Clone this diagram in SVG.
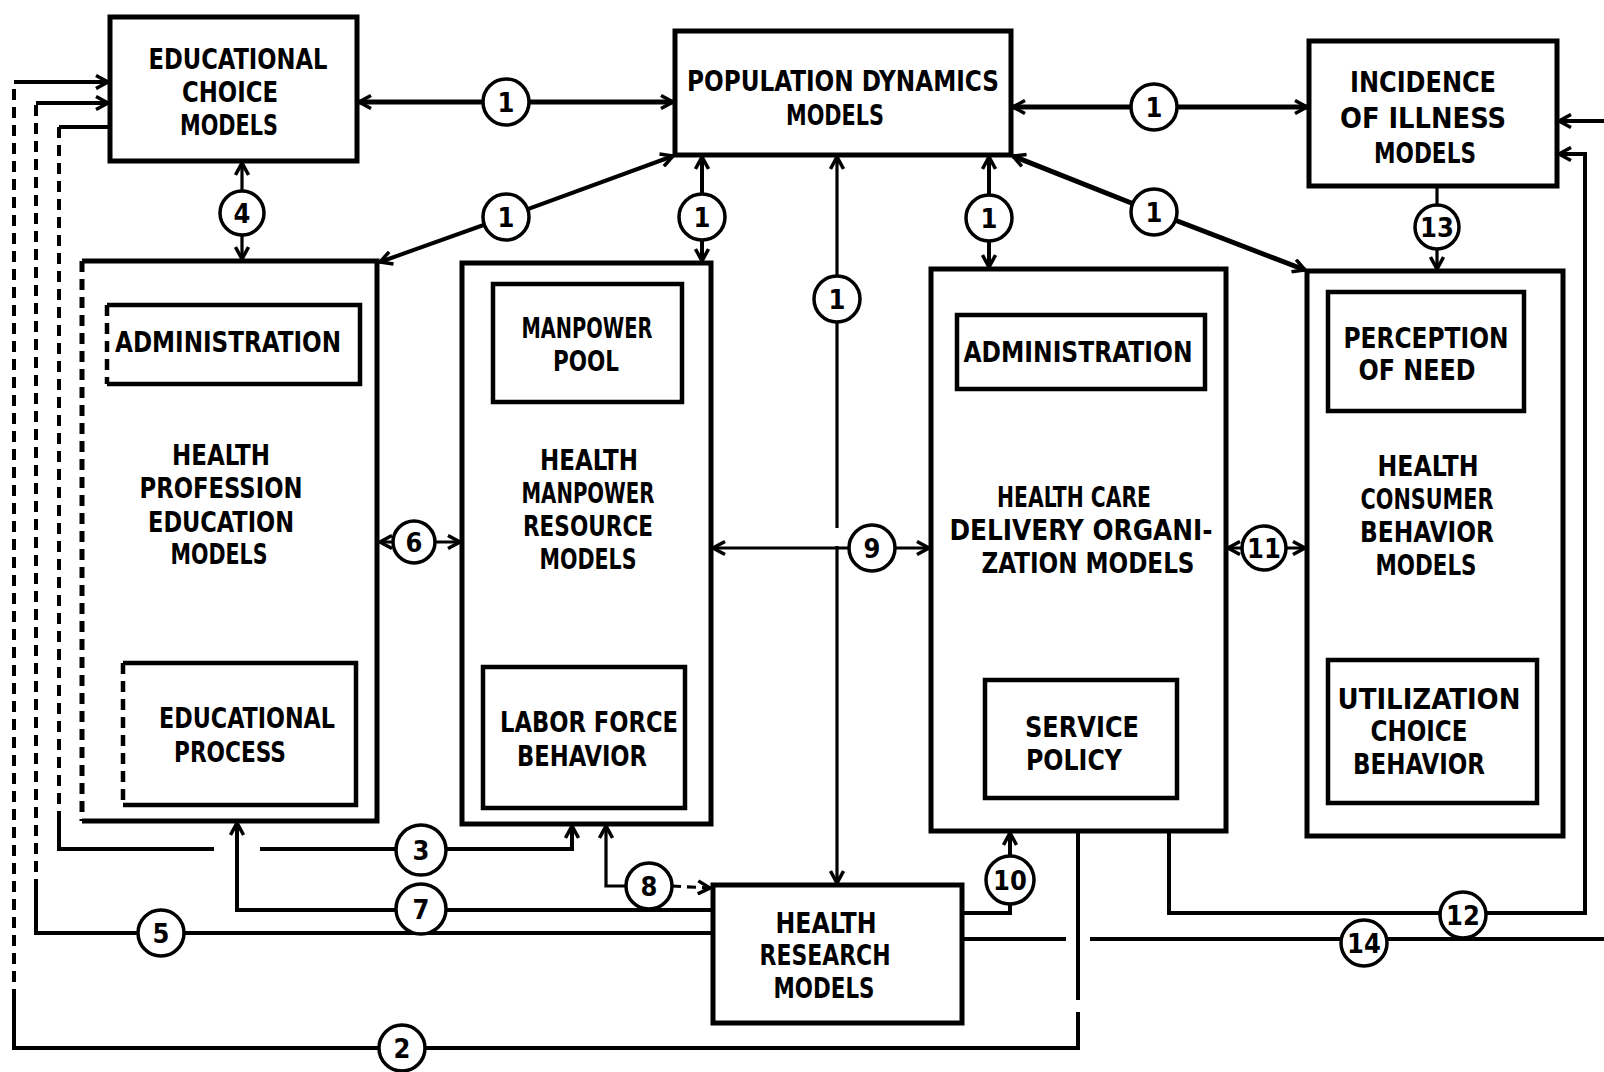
<svg xmlns="http://www.w3.org/2000/svg" width="1604" height="1072" viewBox="0 0 1604 1072">
<defs>
<marker id="ah" markerUnits="userSpaceOnUse" markerWidth="20" markerHeight="16" viewBox="0 0 20 16" refX="15" refY="8" orient="auto-start-reverse">
<path d="M3,1.5 L15,8 L3,14.5" fill="none" stroke="#000" stroke-width="3.5" stroke-linejoin="miter"/>
</marker>
</defs>
<style>
.box{fill:none;stroke:#000;stroke-width:5}
.inner{fill:none;stroke:#000;stroke-width:4.5}
.ln{fill:none;stroke:#000;stroke-width:4}
.thin{stroke-width:3.2}
.thick{stroke-width:5}
.dash{stroke-dasharray:11 7}
.c{fill:#fff;stroke:#000;stroke-width:3.5}
.t{font-family:"DejaVu Sans Condensed","DejaVu Sans","Liberation Sans",sans-serif;font-weight:bold;font-size:28px;text-anchor:middle;fill:#000}
.n{font-family:"DejaVu Sans Condensed","DejaVu Sans","Liberation Sans",sans-serif;font-weight:bold;font-size:27px;text-anchor:middle;fill:#000}
</style>
<rect width="1604" height="1072" fill="#fff"/>

<g id="connectors">
  <!-- 1: Educational choice <-> Population -->
  <path class="ln thick" d="M359,102 L673,102" marker-start="url(#ah)" marker-end="url(#ah)"/>
  <!-- 1: Population <-> Incidence -->
  <path class="ln thick" d="M1013,107 L1307,107" marker-start="url(#ah)" marker-end="url(#ah)"/>
  <!-- 4 -->
  <path class="ln thin" d="M242,163 L242,259" marker-start="url(#ah)" marker-end="url(#ah)"/>
  <!-- 1: diagonal left -->
  <path class="ln" d="M380,262 L506,217 L673,156" marker-start="url(#ah)" marker-end="url(#ah)"/>
  <!-- 1: Population <-> Manpower -->
  <path class="ln" d="M702,157 L702,261" marker-start="url(#ah)" marker-end="url(#ah)"/>
  <!-- 1: Population <-> Research -->
  <path class="ln thin" d="M837,157 L837,528" marker-start="url(#ah)"/>
  <path class="ln thin" d="M837,546 L837,883" marker-end="url(#ah)"/>
  <!-- 1: Population <-> Delivery -->
  <path class="ln" d="M989,157 L989,267" marker-start="url(#ah)" marker-end="url(#ah)"/>
  <!-- 1: diagonal right -->
  <path class="ln thick" d="M1013,156 L1154,212 L1305,270" marker-start="url(#ah)" marker-end="url(#ah)"/>
  <!-- 13 -->
  <path class="ln thin" d="M1437,188 L1437,269" marker-end="url(#ah)"/>
  <!-- 6 -->
  <path class="ln thin" d="M380,542 L460,542" marker-start="url(#ah)" marker-end="url(#ah)"/>
  <!-- 9 -->
  <path class="ln thin" d="M713,548 L929,548" marker-start="url(#ah)" marker-end="url(#ah)"/>
  <!-- 11 -->
  <path class="ln thin" d="M1228,548 L1305,548" marker-start="url(#ah)" marker-end="url(#ah)"/>
  <!-- 2 -->
  <path class="ln" d="M1078,833 L1078,1000"/>
  <path class="ln" d="M1078,1012 L1078,1048 L14,1048 L14,1000"/>
  <path class="ln dash" d="M14,1000 L14,82"/>
  <path class="ln" d="M14,82 L108,82" marker-end="url(#ah)"/>
  <!-- 5 -->
  <path class="ln" d="M711,933 L36,933 L36,890"/>
  <path class="ln dash" d="M36,890 L36,103"/>
  <path class="ln" d="M36,103 L108,103" marker-end="url(#ah)"/>
  <!-- 3 -->
  <path class="ln" d="M108,127 L59,127"/>
  <path class="ln dash" d="M59,127 L59,820"/>
  <path class="ln" d="M59,820 L59,849 L214,849"/>
  <path class="ln" d="M260,849 L572,849 L572,826" marker-end="url(#ah)"/>
  <!-- 7 -->
  <path class="ln" d="M711,910 L237,910 L237,823" marker-end="url(#ah)"/>
  <!-- 8 -->
  <path class="ln thin" d="M628,886 L606,886 L606,826" marker-end="url(#ah)"/>
  <path class="ln thin" d="M672,886 L710,888" stroke-dasharray="9 6" marker-end="url(#ah)"/>
  <!-- 10 -->
  <path class="ln" d="M964,913 L1010,913 L1010,833" marker-end="url(#ah)"/>
  <!-- 14 -->
  <path class="ln" d="M964,939 L1066,939"/>
  <path class="ln" d="M1090,939 L1604,939"/>
  <path class="ln" d="M1604,121 L1559,121" marker-end="url(#ah)"/>
  <!-- 12 -->
  <path class="ln" d="M1169,833 L1169,913 L1585,913 L1585,154 L1559,154" marker-end="url(#ah)"/>

  <!-- circle labels -->
  <circle class="c" cx="506" cy="102" r="23"/><text class="n" x="506" y="112">1</text>
  <circle class="c" cx="1154" cy="107" r="23"/><text class="n" x="1154" y="117">1</text>
  <circle class="c" cx="242" cy="213" r="22"/><text class="n" x="242" y="223">4</text>
  <circle class="c" cx="506" cy="217" r="23"/><text class="n" x="506" y="227">1</text>
  <circle class="c" cx="702" cy="217" r="23"/><text class="n" x="702" y="227">1</text>
  <circle class="c" cx="837" cy="299" r="23"/><text class="n" x="837" y="309">1</text>
  <circle class="c" cx="989" cy="218" r="23"/><text class="n" x="989" y="228">1</text>
  <circle class="c" cx="1154" cy="212" r="23"/><text class="n" x="1154" y="222">1</text>
  <circle class="c" cx="1437" cy="227" r="22"/><text class="n" x="1437" y="237">13</text>
  <circle class="c" cx="414" cy="542" r="21"/><text class="n" x="414" y="552">6</text>
  <circle class="c" cx="872" cy="548" r="23"/><text class="n" x="872" y="558">9</text>
  <circle class="c" cx="1264" cy="548" r="22"/><text class="n" x="1264" y="558">11</text>
  <circle class="c" cx="421" cy="850" r="25"/><text class="n" x="421" y="860">3</text>
  <circle class="c" cx="421" cy="909" r="25"/><text class="n" x="421" y="919">7</text>
  <circle class="c" cx="649" cy="886" r="23"/><text class="n" x="649" y="896">8</text>
  <circle class="c" cx="1010" cy="880" r="24"/><text class="n" x="1010" y="890">10</text>
  <circle class="c" cx="161" cy="933" r="23"/><text class="n" x="161" y="943">5</text>
  <circle class="c" cx="1463" cy="915" r="23"/><text class="n" x="1463" y="925">12</text>
  <circle class="c" cx="1364" cy="943" r="23"/><text class="n" x="1364" y="953">14</text>
  <circle class="c" cx="402" cy="1048" r="23"/><text class="n" x="402" y="1058">2</text>
</g>

<g id="educational-choice">
  <rect class="box" x="110" y="17" width="247" height="144"/>
  <text class="t" x="238" y="69" textLength="179" lengthAdjust="spacingAndGlyphs">EDUCATIONAL</text>
  <text class="t" x="230" y="102" textLength="96" lengthAdjust="spacingAndGlyphs">CHOICE</text>
  <text class="t" x="229" y="135" textLength="98" lengthAdjust="spacingAndGlyphs">MODELS</text>
</g>

<g id="population-dynamics">
  <rect class="box" x="675" y="31" width="336" height="124"/>
  <text class="t" x="843" y="91" textLength="312" lengthAdjust="spacingAndGlyphs">POPULATION DYNAMICS</text>
  <text class="t" x="835" y="125" textLength="98" lengthAdjust="spacingAndGlyphs">MODELS</text>
</g>

<g id="incidence-of-illness">
  <rect class="box" x="1309" y="41" width="248" height="145"/>
  <text class="t" x="1423" y="92" textLength="146" lengthAdjust="spacingAndGlyphs">INCIDENCE</text>
  <text class="t" x="1423" y="128" textLength="166" lengthAdjust="spacingAndGlyphs">OF ILLNESS</text>
  <text class="t" x="1425" y="163" textLength="102" lengthAdjust="spacingAndGlyphs">MODELS</text>
</g>

<g id="health-profession-education">
  <path class="box" d="M82,261 L377,261 L377,821 L82,821"/>
  <path class="box dash" d="M82,261 L82,821"/>
  <path class="inner" d="M107,305 L360,305 L360,384 L107,384"/>
  <path class="inner dash" d="M107,305 L107,384"/>
  <text class="t" x="228" y="352" textLength="226" lengthAdjust="spacingAndGlyphs">ADMINISTRATION</text>
  <text class="t" x="221" y="465" textLength="98" lengthAdjust="spacingAndGlyphs">HEALTH</text>
  <text class="t" x="221" y="498" textLength="163" lengthAdjust="spacingAndGlyphs">PROFESSION</text>
  <text class="t" x="221" y="532" textLength="146" lengthAdjust="spacingAndGlyphs">EDUCATION</text>
  <text class="t" x="219" y="564" textLength="97" lengthAdjust="spacingAndGlyphs">MODELS</text>
  <path class="inner" d="M123,663 L356,663 L356,805 L123,805"/>
  <path class="inner dash" d="M123,663 L123,805"/>
  <text class="t" x="247" y="728" textLength="176" lengthAdjust="spacingAndGlyphs">EDUCATIONAL</text>
  <text class="t" x="230" y="762" textLength="112" lengthAdjust="spacingAndGlyphs">PROCESS</text>
</g>

<g id="health-manpower-resource">
  <rect class="box" x="462" y="263" width="249" height="561"/>
  <rect class="inner" x="493" y="284" width="189" height="118"/>
  <text class="t" x="587" y="338" textLength="131" lengthAdjust="spacingAndGlyphs">MANPOWER</text>
  <text class="t" x="586" y="371" textLength="66" lengthAdjust="spacingAndGlyphs">POOL</text>
  <text class="t" x="589" y="470" textLength="98" lengthAdjust="spacingAndGlyphs">HEALTH</text>
  <text class="t" x="588" y="503" textLength="133" lengthAdjust="spacingAndGlyphs">MANPOWER</text>
  <text class="t" x="588" y="536" textLength="130" lengthAdjust="spacingAndGlyphs">RESOURCE</text>
  <text class="t" x="588" y="569" textLength="97" lengthAdjust="spacingAndGlyphs">MODELS</text>
  <rect class="inner" x="483" y="667" width="202" height="141"/>
  <text class="t" x="589" y="732" textLength="178" lengthAdjust="spacingAndGlyphs">LABOR FORCE</text>
  <text class="t" x="582" y="766" textLength="130" lengthAdjust="spacingAndGlyphs">BEHAVIOR</text>
</g>

<g id="health-care-delivery">
  <rect class="box" x="931" y="269" width="295" height="562"/>
  <rect class="inner" x="957" y="315" width="248" height="74" stroke-width="6"/>
  <text class="t" x="1078" y="362" textLength="229" lengthAdjust="spacingAndGlyphs">ADMINISTRATION</text>
  <text class="t" x="1074" y="507" textLength="154" lengthAdjust="spacingAndGlyphs">HEALTH CARE</text>
  <text class="t" x="1081" y="540" textLength="263" lengthAdjust="spacingAndGlyphs">DELIVERY ORGANI-</text>
  <text class="t" x="1088" y="573" textLength="213" lengthAdjust="spacingAndGlyphs">ZATION MODELS</text>
  <rect class="inner" x="985" y="680" width="192" height="118"/>
  <text class="t" x="1082" y="737" textLength="114" lengthAdjust="spacingAndGlyphs">SERVICE</text>
  <text class="t" x="1074" y="770" textLength="96" lengthAdjust="spacingAndGlyphs">POLICY</text>
</g>

<g id="health-consumer-behavior">
  <rect class="box" x="1307" y="271" width="256" height="565"/>
  <rect class="inner" x="1328" y="292" width="196" height="119"/>
  <text class="t" x="1426" y="348" textLength="165" lengthAdjust="spacingAndGlyphs">PERCEPTION</text>
  <text class="t" x="1417" y="380" textLength="117" lengthAdjust="spacingAndGlyphs">OF NEED</text>
  <text class="t" x="1428" y="476" textLength="101" lengthAdjust="spacingAndGlyphs">HEALTH</text>
  <text class="t" x="1427" y="509" textLength="133" lengthAdjust="spacingAndGlyphs">CONSUMER</text>
  <text class="t" x="1427" y="542" textLength="134" lengthAdjust="spacingAndGlyphs">BEHAVIOR</text>
  <text class="t" x="1426" y="575" textLength="101" lengthAdjust="spacingAndGlyphs">MODELS</text>
  <rect class="inner" x="1328" y="660" width="209" height="143"/>
  <text class="t" x="1429" y="709" textLength="183" lengthAdjust="spacingAndGlyphs">UTILIZATION</text>
  <text class="t" x="1419" y="741" textLength="97" lengthAdjust="spacingAndGlyphs">CHOICE</text>
  <text class="t" x="1419" y="774" textLength="132" lengthAdjust="spacingAndGlyphs">BEHAVIOR</text>
</g>

<g id="health-research">
  <rect class="box" x="713" y="885" width="249" height="138"/>
  <text class="t" x="826" y="933" textLength="101" lengthAdjust="spacingAndGlyphs">HEALTH</text>
  <text class="t" x="825" y="965" textLength="131" lengthAdjust="spacingAndGlyphs">RESEARCH</text>
  <text class="t" x="824" y="998" textLength="101" lengthAdjust="spacingAndGlyphs">MODELS</text>
</g>
</svg>
